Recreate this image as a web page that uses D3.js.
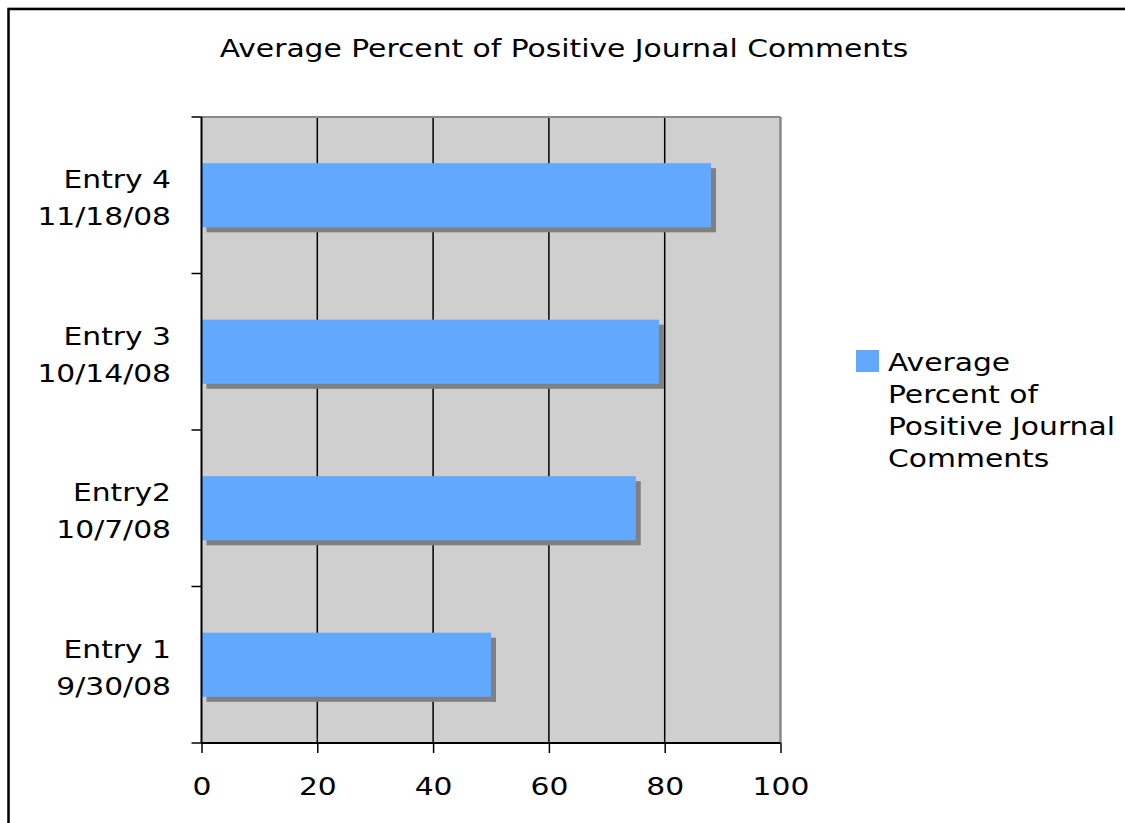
<!DOCTYPE html>
<html><head><meta charset="utf-8">
<script src="https://d3js.org/d3.v7.min.js"></script>
<style>body{margin:0;background:#fff}svg{display:block}text{font-family:"DejaVu Sans",Verdana,sans-serif;fill:#000}</style>
</head><body><svg id="c" width="1125" height="823"></svg>
<script>
const categories = [["Entry 1","9/30/08"],["Entry2","10/7/08"],["Entry 3","10/14/08"],["Entry 4","11/18/08"]];
const values = [50, 75, 79, 88];
const xTicks = [0,20,40,60,80,100];
const title = "Average Percent of Positive Journal Comments";
const legendLines = ["Average","Percent of","Positive Journal","Comments"];

const SX = 1.19, FS = 25;
const svg = d3.select("#c");
svg.append("rect").attr("x",8.5).attr("y",9).attr("width",1130).attr("height",830)
  .attr("fill","none").attr("stroke","#000").attr("stroke-width",2.5);
svg.append("line").attr("x1",8).attr("x2",1125).attr("y1",7.5).attr("y2",7.5).attr("stroke","#aaa").attr("stroke-width",1);

const L=201.5,R=780.5,T=117,B=743;
const x = d3.scaleLinear().domain([0,100]).range([L,R]);
const y = d3.scaleBand().domain(d3.range(categories.length).reverse()).range([T,B]).paddingInner(0.59).paddingOuter(0.295);
const yb = d3.scaleBand().domain(d3.range(categories.length).reverse()).range([T,B]);

svg.append("rect").attr("x",L).attr("y",T).attr("width",R-L).attr("height",B-T).attr("fill","#cfcfcf");
svg.append("g").selectAll("line").data(xTicks.slice(1,-1)).join("line")
  .attr("x1",d=>x(d)).attr("x2",d=>x(d)).attr("y1",T).attr("y2",B).attr("stroke","#000").attr("stroke-width",1.5);
svg.append("line").attr("x1",R).attr("x2",R).attr("y1",T).attr("y2",B).attr("stroke","#8a8a8a").attr("stroke-width",2.5);
svg.append("line").attr("x1",L).attr("x2",R).attr("y1",T).attr("y2",T).attr("stroke","#8a8a8a").attr("stroke-width",2);

svg.append("g").selectAll("rect").data(values).join("rect")
  .attr("x",x(0)+5).attr("y",(d,i)=>y(i)+5).attr("width",d=>x(d)-x(0)).attr("height",y.bandwidth()).attr("fill","#808080");
svg.append("g").selectAll("rect").data(values).join("rect")
  .attr("x",x(0)).attr("y",(d,i)=>y(i)).attr("width",d=>x(d)-x(0)).attr("height",y.bandwidth()).attr("fill","#62a8ff");

const xa = svg.append("g").attr("transform",`translate(0,${B})`)
  .call(d3.axisBottom(x).tickValues(xTicks).tickSize(10));
xa.select(".domain").attr("stroke","#000").attr("stroke-width",2).attr("d",`M${L},0H${R}`);
xa.selectAll(".tick line").attr("stroke","#000").attr("stroke-width",1.5);
xa.selectAll(".tick text").attr("font-size",FS).attr("font-family","DejaVu Sans")
  .attr("y",52).attr("dy",0).attr("transform",`scale(${SX},1)`);

const ya = svg.append("g").attr("transform",`translate(${L},0)`);
ya.append("line").attr("x1",0).attr("x2",0).attr("y1",T).attr("y2",B).attr("stroke","#000").attr("stroke-width",2);
const bounds = d3.range(categories.length+1).map(i=> i<categories.length ? yb(i)+yb.bandwidth() : T);
ya.selectAll("line.t").data(bounds).join("line").attr("class","t")
  .attr("x1",-10).attr("x2",0).attr("y1",d=>d).attr("y2",d=>d).attr("stroke","#000").attr("stroke-width",1.5);
const lab = svg.append("g").selectAll("g").data(categories).join("g")
  .attr("transform",(d,i)=>`translate(171,${yb(i)+yb.bandwidth()/2-7}) scale(${SX},1)`)
  .append("text").attr("text-anchor","end").attr("font-size",FS);
lab.selectAll("tspan").data(d=>d).join("tspan").attr("x",0).attr("dy",(d,j)=>j?37:0).text(d=>d);

svg.append("g").attr("transform",`translate(564,57) scale(${SX},1)`)
  .append("text").attr("text-anchor","middle").attr("font-size",FS).text(title);

svg.append("rect").attr("x",856).attr("y",350).attr("width",23).attr("height",22).attr("fill","#62a8ff");
const lt = svg.append("g").attr("transform",`translate(888,371) scale(${SX},1)`)
  .append("text").attr("font-size",FS);
lt.selectAll("tspan").data(legendLines).join("tspan").attr("x",0).attr("dy",(d,i)=>i?32:0).text(d=>d);
</script></body></html>
